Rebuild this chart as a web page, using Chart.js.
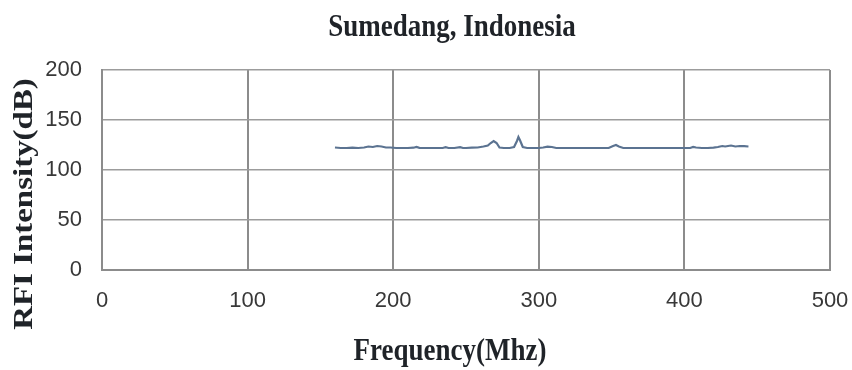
<!DOCTYPE html>
<html>
<head>
<meta charset="utf-8">
<title>Sumedang, Indonesia</title>
<script src="https://cdn.jsdelivr.net/npm/chart.js@4/dist/chart.umd.min.js"></script>
<style>
  html, body { margin: 0; padding: 0; background: #ffffff; }
  #wrap { width: 852px; height: 370px; position: relative; }
</style>
</head>
<body>
<div id="wrap"><canvas id="rfi"></canvas></div>
<script>
// RFI sweep measured at Sumedang
const chartTitle = 'Sumedang, Indonesia';
const xAxisTitle = 'Frequency(Mhz)';
const yAxisTitle = 'RFI Intensity(dB)';

const freqMHz = [160, 164, 168, 172, 176, 180, 183, 186, 189, 192, 195, 198, 202, 206, 210, 214, 216, 218,
  222, 226, 230, 234, 236, 238, 242, 246, 248, 250, 254, 258, 262, 265, 267, 269, 271, 273, 276, 280,
  283, 285, 286, 287, 289, 292, 296, 300, 303, 306, 309, 312, 320, 330, 340, 348, 351, 353, 355, 358,
  370, 380, 390, 400, 404, 406, 408, 412, 416, 420, 423, 426, 428, 430, 432, 435, 438, 441, 444];
const rfiDb = [122.5, 122, 122, 122.3, 122, 122.5, 123.5, 123, 124, 123.5, 122.5, 122.5, 122, 122, 122, 122.3, 123, 122.2,
  122, 122, 122, 122, 122.8, 122, 122, 122.8, 122, 122, 122.3, 122.5, 123.5, 124.5, 127, 129, 127, 122.5, 122, 122,
  123, 129, 133, 130, 123, 122, 122, 122, 122.5, 123.3, 123, 122, 122, 122, 122, 122, 124, 125, 123.5, 122,
  122, 122, 122, 122, 122, 123, 122.5, 122, 122, 122.3, 123, 124, 123.5, 124, 124.5, 123.5, 124, 123.8, 123.5];

const xTicks = [0, 100, 200, 300, 400, 500];
const yTicks = [0, 50, 100, 150, 200];

const points = freqMHz.map((f, i) => ({ x: f, y: rfiDb[i] }));

// Titles drawn with a slight vertical stretch in the serif face
const titlePlugin = {
  id: 'stretchedTitles',
  afterDraw(chart) {
    const ctx = chart.ctx;
    ctx.save();
    ctx.fillStyle = '#1f2328';
    ctx.textAlign = 'center';
    ctx.textBaseline = 'middle';
    ctx.font = 'bold 27px "Liberation Serif", "DejaVu Serif", serif';

    ctx.save();
    ctx.translate(452, 28);
    ctx.scale(1, 1.15);
    ctx.fillText(chartTitle, 0, 0);
    ctx.restore();

    ctx.save();
    ctx.translate(450, 352);
    ctx.scale(1, 1.15);
    ctx.fillText(xAxisTitle, 0, 0);
    ctx.restore();

    ctx.save();
    ctx.translate(25, 204);
    ctx.rotate(-Math.PI / 2);
    ctx.scale(1.22, 1);
    ctx.fillText(yAxisTitle, 0, 0);
    ctx.restore();

    ctx.restore();
  }
};

new Chart(document.getElementById('rfi'), {
  type: 'line',
  data: {
    datasets: [{
      data: points,
      borderColor: '#5b7391',
      borderWidth: 2.2,
      pointRadius: 0,
      tension: 0,
      fill: false
    }]
  },
  options: {
    responsive: true,
    maintainAspectRatio: false,
    animation: false,
    layout: { padding: { top: 70, right: 22, bottom: 0, left: 0 } },
    plugins: {
      legend: { display: false },
      title: { display: false },
      tooltip: { enabled: false }
    },
    scales: {
      x: {
        type: 'linear',
        min: 0,
        max: 500,
        afterBuildTicks(scale) { scale.ticks = xTicks.map(v => ({ value: v })); },
        afterFit(scale) {
          scale.height = 100;
          scale.paddingLeft = 0;
          scale.paddingRight = 0;
        },
        grid: { color: '#8c8c8c', lineWidth: 2, drawTicks: false },
        border: { display: true, color: '#8c8c8c', width: 2 },
        ticks: {
          padding: 18,
          maxRotation: 0,
          color: '#383838',
          font: { family: '"Liberation Sans", Arial, sans-serif', size: 22 }
        }
      },
      y: {
        type: 'linear',
        min: 0,
        max: 200,
        afterBuildTicks(scale) { scale.ticks = yTicks.map(v => ({ value: v })); },
        afterFit(scale) {
          scale.width = 102;
          scale.paddingTop = 0;
          scale.paddingBottom = 0;
        },
        grid: { color: '#9c9c9c', lineWidth: 1.5, drawTicks: false },
        border: { display: true, color: '#8c8c8c', width: 2 },
        ticks: {
          padding: 20,
          color: '#383838',
          font: { family: '"Liberation Sans", Arial, sans-serif', size: 22 }
        }
      }
    }
  },
  plugins: [titlePlugin]
});
</script>
</body>
</html>
